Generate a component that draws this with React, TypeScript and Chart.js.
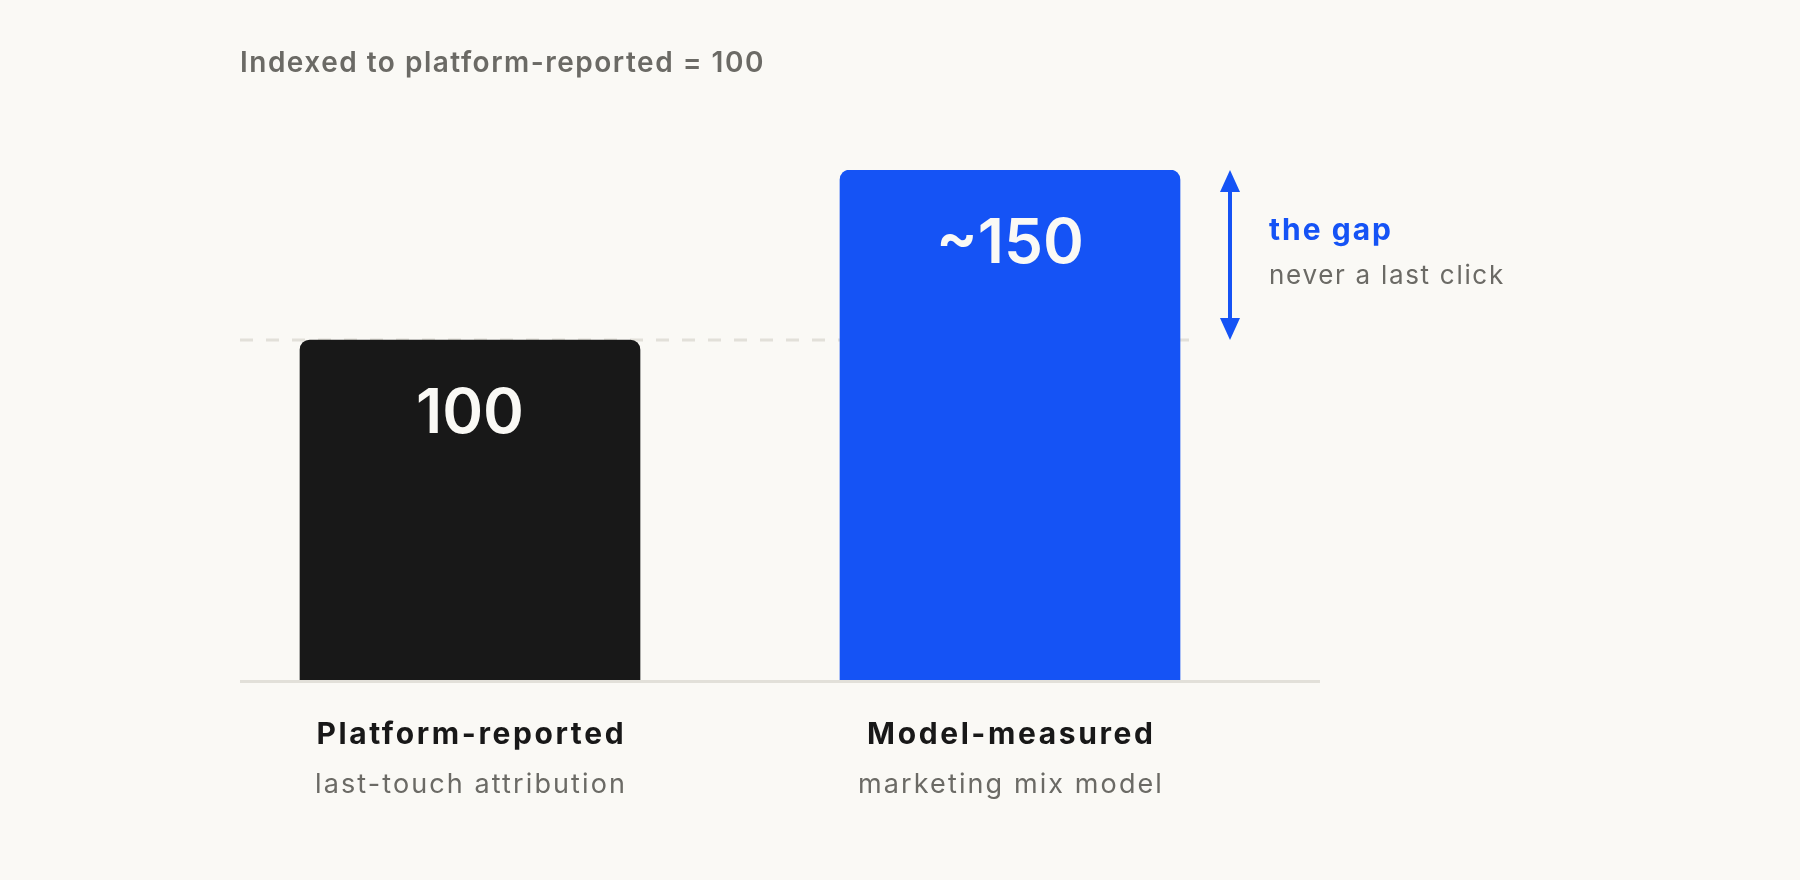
import React, { useEffect, useRef } from "react";
import { Chart, registerables } from "chart.js";

Chart.register(...registerables);

const categories = ["Platform-reported", "Model-measured"];
const subLabels = ["last-touch attribution", "marketing mix model"];
const values = [100, 150];
const valueLabels = ["100", "~150"];
const barColors = ["#181818", "#1553f5"];
const referenceValue = 100;
const titleText = "Indexed to platform-reported = 100";
const gapTitle = "the gap";
const gapSub = "never a last click";

const BG = "#faf9f5";
const GRAY = "#6b6a65";
const BLUE = "#1553f5";
const FONT = "Inter, 'DejaVu Sans', sans-serif";

function text(ctx: any, s: string, x: number, y: number, font: string, color: string, align: string, spacing: number) {
  ctx.font = font;
  ctx.fillStyle = color;
  ctx.textAlign = align;
  ctx.textBaseline = "alphabetic";
  ctx.letterSpacing = `${spacing}px`;
  const dx = align === "center" ? spacing / 2 : 0;
  ctx.fillText(s, x + dx, y);
  ctx.letterSpacing = "0px";
}

const overlay = {
  id: "overlay",
  beforeDatasetsDraw(chart: any) {
    const { ctx, scales } = chart;
    const y100 = scales.y.getPixelForValue(referenceValue);
    ctx.save();
    ctx.strokeStyle = "#e2e0d9";
    ctx.lineWidth = 3;
    ctx.setLineDash([13, 13]);
    ctx.beginPath();
    ctx.moveTo(240, y100);
    ctx.lineTo(1192, y100);
    ctx.stroke();
    ctx.restore();
  },
  afterDatasetsDraw(chart: any) {
    const { ctx, chartArea, scales } = chart;
    const meta = chart.getDatasetMeta(0);
    const yBase = chartArea.bottom;
    ctx.save();
    // baseline
    ctx.strokeStyle = "#e2e0d9";
    ctx.lineWidth = 3;
    ctx.beginPath();
    ctx.moveTo(240, yBase + 1.5);
    ctx.lineTo(1320, yBase + 1.5);
    ctx.stroke();

    // title
    text(ctx, titleText, 240, 72, `600 28px ${FONT}`, GRAY, "left", 1.5);

    meta.data.forEach((bar: any, i: number) => {
      const x = bar.x;
      text(ctx, valueLabels[i], x, bar.y + 93, `600 62px ${FONT}`, "#faf9f5", "center", 0);
      text(ctx, categories[i], x, 744, `700 30px ${FONT}`, "#181818", "center", 2.6);
      text(ctx, subLabels[i], x, 793, `400 27px ${FONT}`, GRAY, "center", 2.1);
    });

    // arrow
    const yTop = scales.y.getPixelForValue(values[1]);
    const yRef = scales.y.getPixelForValue(referenceValue);
    const ax = 1230;
    ctx.strokeStyle = BLUE;
    ctx.fillStyle = BLUE;
    ctx.lineWidth = 4;
    ctx.setLineDash([]);
    ctx.beginPath();
    ctx.moveTo(ax, yTop + 18);
    ctx.lineTo(ax, yRef - 18);
    ctx.stroke();
    ctx.beginPath();
    ctx.moveTo(ax, yTop);
    ctx.lineTo(ax - 10, yTop + 22);
    ctx.lineTo(ax + 10, yTop + 22);
    ctx.closePath();
    ctx.fill();
    ctx.beginPath();
    ctx.moveTo(ax, yRef);
    ctx.lineTo(ax - 10, yRef - 22);
    ctx.lineTo(ax + 10, yRef - 22);
    ctx.closePath();
    ctx.fill();

    text(ctx, gapTitle, 1269, 240, `700 30px ${FONT}`, BLUE, "left", 2);
    text(ctx, gapSub, 1269, 284, `400 26px ${FONT}`, GRAY, "left", 1.7);
    ctx.restore();
  },
};

export default function App() {
  const ref = useRef<HTMLCanvasElement>(null);
  useEffect(() => {
    document.body.style.margin = "0";
    const chart = new Chart(ref.current!, {
      type: "bar",
      data: {
        labels: categories,
        datasets: [
          {
            data: values,
            backgroundColor: barColors,
            borderRadius: 10,
            borderSkipped: "bottom",
            barThickness: 340,
          },
        ],
      },
      options: {
        animation: false,
        responsive: false,
        events: [],
        layout: { padding: { left: 200, right: 520, top: 170, bottom: 200 } },
        plugins: { legend: { display: false }, tooltip: { enabled: false } },
        scales: {
          x: { display: false, offset: true },
          y: { display: false, min: 0, max: 150 },
        },
      },
      plugins: [overlay],
    });
    return () => chart.destroy();
  }, []);
  return (
    <div style={{ width: 1800, height: 880, background: BG }}>
      <canvas ref={ref} width={1800} height={880} style={{ display: "block" }} />
    </div>
  );
}
